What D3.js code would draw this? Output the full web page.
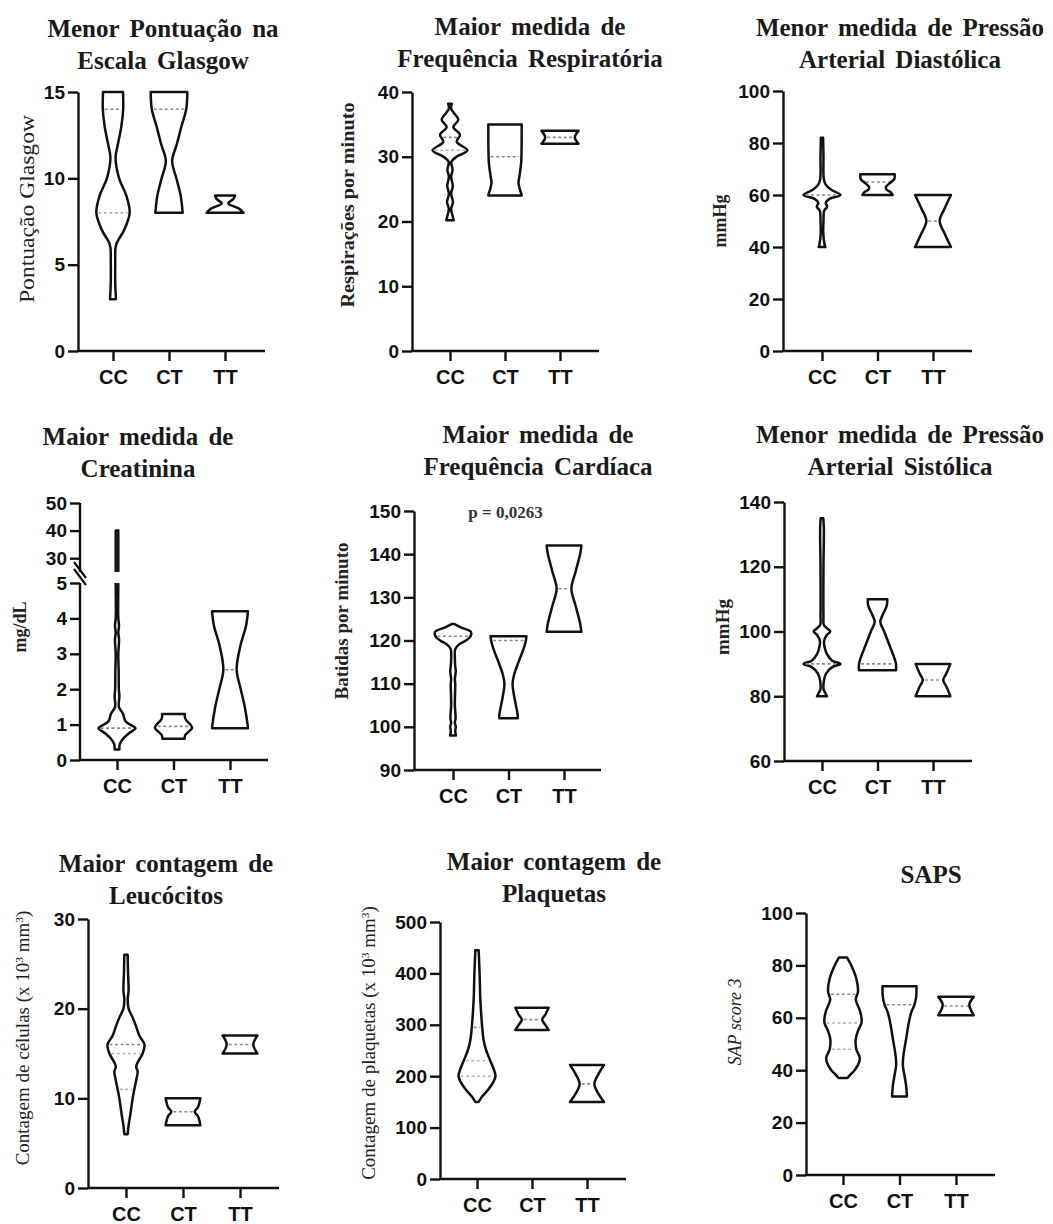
<!DOCTYPE html>
<html>
<head>
<meta charset="utf-8">
<script src="https://cdn.jsdelivr.net/npm/d3@7"></script>
<style>body{margin:0;background:#fff}</style>
</head>
<body>
<svg id="fig" width="1053" height="1224"></svg>
<script>
// genotype groups
var categories = ["CC", "CT", "TT"];

// violin outlines: [value, relative density] (top -> bottom)
var glasgowTicks = [0, 5, 10, 15];
var glasgowCC = [[15,0.54],[14,0.55],[13,0.45],[12,0.27],[11.2,0.14],[10,0.33],[9,0.72],[8,0.9],[7,0.6],[6.3,0.22],[6,0.14],[5,0.12],[4,0.12],[3,0.16]];
var glasgowCT = [[15,0.99],[14,0.93],[13,0.67],[12,0.43],[11,0.17],[10,0.4],[9,0.63],[8,0.74]];
var glasgowTT = [[9,0.54],[8.8,0.45],[8.55,0.18],[8.25,0.75],[8,1.0]];
var glasgowLines = [[14, 8], [14], []];

var frTicks = [0, 10, 20, 30, 40];
var frCC = [[38.2,0.1],[37.4,0.06],[36.8,0.2],[35.7,0.45],[34.6,0.18],[33.4,0.54],[32.3,0.36],[31,0.94],[30,0.35],[29.2,0.07],[28,0.14],[26.9,0.06],[25.5,0.15],[24.3,0.06],[23,0.16],[21.9,0.06],[21,0.13],[20.2,0.2]];
var frCT = [[35,0.9],[32,0.9],[29,0.87],[27,0.78],[26,0.73],[25,0.8],[24.3,0.88],[24,0.9]];
var frTT = [[34,1.0],[33,0.8],[32,1.0]];
var frLines = [[33, 31], [30], [33]];

var padTicks = [0, 20, 40, 60, 80, 100];
var padCC = [[82,0.06],[75,0.08],[66,0.1],[64,0.2],[62,0.5],[60,1.0],[58.5,0.4],[57,0.2],[55.5,0.28],[54,0.12],[50,0.08],[45,0.07],[41,0.14],[40,0.18]];
var padCT = [[68,0.93],[66,0.9],[64.5,0.65],[63,0.45],[62,0.5],[61,0.72],[60,0.82]];
var padTT = [[60,0.97],[55,0.64],[50,0.36],[45,0.64],[40,0.97]];
var padLines = [[60], [65], [50]];

var creatTicks = [0, 1, 2, 3, 4, 5, 30, 40, 50];
var creatCC = [[40,0.07],[30,0.07],[25,0.07],[5,0.07],[4,0.07],[3.8,0.11],[3.6,0.07],[3.4,0.11],[3.0,0.07],[2.5,0.09],[2,0.1],[1.8,0.13],[1.5,0.1],[1.3,0.33],[1.1,0.45],[1.0,0.72],[0.9,1.0],[0.75,0.63],[0.6,0.33],[0.45,0.15],[0.3,0.13]];
var creatCT = [[1.3,0.62],[1.2,0.62],[1.1,0.72],[1.0,0.92],[0.9,1.0],[0.8,0.82],[0.7,0.63],[0.6,0.6]];
var creatTT = [[4.2,0.97],[3.8,0.87],[3.2,0.55],[2.55,0.36],[2,0.58],[1.5,0.8],[1.0,0.95],[0.9,0.97]];
var creatLines = [[0.9], [0.95], [2.55]];

var fcTicks = [90, 100, 110, 120, 130, 140, 150];
var fcCC = [[123.8,0.08],[123,0.45],[122,0.97],[121,0.95],[120,0.7],[119,0.3],[118,0.12],[116,0.1],[114,0.12],[113,0.15],[111,0.1],[110,0.12],[105,0.1],[102,0.14],[101,0.1],[100,0.15],[99,0.12],[98,0.16]];
var fcCT = [[121,0.97],[120,0.94],[118,0.81],[115,0.54],[112,0.3],[110,0.22],[108,0.27],[105,0.4],[103,0.49],[102,0.5]];
var fcTT = [[142,0.94],[140,0.87],[136,0.63],[132,0.4],[128,0.63],[124,0.87],[122,0.94]];
var fcLines = [[121], [120], [132]];

var pasTicks = [60, 80, 100, 120, 140];
var pasCC = [[135,0.07],[132,0.1],[120,0.08],[105,0.08],[102,0.1],[101,0.27],[100,0.45],[99,0.27],[97,0.11],[95,0.15],[93,0.27],[91,0.55],[90,1.0],[89,0.55],[87,0.22],[85,0.11],[82,0.09],[81,0.18],[80,0.27]];
var pasCT = [[110,0.53],[108,0.5],[105,0.27],[103,0.15],[100,0.36],[96,0.63],[92,0.9],[90,1.0],[88,1.0]];
var pasTT = [[90,0.94],[87,0.72],[85,0.55],[83,0.72],[80,0.94]];
var pasLines = [[90], [90], [85]];

var leucTicks = [0, 10, 20, 30];
var leucCC = [[26,0.09],[24,0.11],[22,0.14],[21,0.09],[20,0.14],[19,0.36],[18,0.55],[17,0.72],[16,1.0],[15,0.9],[14,0.63],[13.5,0.55],[13,0.63],[12,0.55],[11,0.45],[10,0.36],[8,0.22],[7,0.14],[6,0.09]];
var leucCT = [[10,0.94],[9,0.81],[8.5,0.63],[8,0.81],[7,0.94]];
var leucTT = [[17,0.94],[16,0.72],[15,0.94]];
var leucLines = [[16, 15, 11], [8.5], [16]];

var plaqTicks = [0, 100, 200, 300, 400, 500];
var plaqCC = [[445,0.09],[400,0.14],[350,0.18],[300,0.27],[270,0.36],[250,0.5],[230,0.72],[210,0.94],[200,1.0],[190,0.9],[175,0.63],[160,0.27],[150,0.09]];
var plaqCT = [[333,0.9],[320,0.72],[310,0.55],[300,0.72],[290,0.9]];
var plaqTT = [[222,0.92],[205,0.63],[185,0.4],[165,0.63],[150,0.92]];
var plaqLines = [[295, 230, 200], [310], [185]];

var sapsTicks = [0, 20, 40, 60, 80, 100];
var sapsCC = [[83,0.22],[80,0.45],[75,0.72],[70,0.81],[67,0.69],[63,0.9],[60,1.0],[58,1.0],[55,0.81],[52,0.69],[48,0.72],[45,0.9],[43,0.87],[40,0.63],[38,0.36],[37,0.24]];
var sapsCT = [[72,0.92],[68,0.9],[65,0.81],[62,0.63],[58,0.5],[52,0.36],[46,0.22],[42,0.18],[38,0.27],[34,0.36],[30,0.4]];
var sapsTT = [[68,0.96],[65,0.72],[61,0.96]];
var sapsLines = [[69, 58, 48], [65], [64.5]];

var svg = d3.select("#fig");
var serif = "'Liberation Serif', 'Times New Roman', serif";
var sans = "'Liberation Sans', Arial, sans-serif";

var panels = [
  {title: ["Menor Pontuação na", "Escala Glasgow"], tx: 163, ty: 37,
   ylab: [["Pontuação Glasgow"]], lx: 27, ly: 209, lsize: 20, lweight: "normal", llen: 188,
   y: d3.scaleLinear().domain([0, 15]).range([351, 92]), ticks: glasgowTicks,
   ax: 78, cx: [113, 225], xEnd: 265, violins: [glasgowCC, glasgowCT, glasgowTT], lines: glasgowLines},
  {title: ["Maior medida de", "Frequência Respiratória"], tx: 530, ty: 35,
   ylab: [["Respirações por minuto"]], lx: 347, ly: 205, lsize: 19, lweight: "bold", llen: 205,
   y: d3.scaleLinear().domain([0, 40]).range([351, 92]), ticks: frTicks,
   ax: 412, cx: [450, 560], xEnd: 599, violins: [frCC, frCT, frTT], lines: frLines},
  {title: ["Menor medida de Pressão", "Arterial Diastólica"], tx: 900, ty: 36,
   ylab: [["mmHg"]], lx: 720, ly: 221, lsize: 18, lweight: "bold",
   y: d3.scaleLinear().domain([0, 100]).range([351, 91]), ticks: padTicks,
   ax: 783, cx: [822, 933], xEnd: 972, violins: [padCC, padCT, padTT], lines: padLines},
  {title: ["Maior medida de", "Creatinina"], tx: 138, ty: 445,
   ylab: [["mg/dL"]], lx: 20, ly: 627, lsize: 18, lweight: "bold",
   y: d3.scaleLinear().domain([0, 5, 25, 50]).range([760, 583, 572, 503]), ticks: creatTicks, broken: true,
   ax: 80, cx: [117, 230], xEnd: 268, violins: [creatCC, creatCT, creatTT], lines: creatLines},
  {title: ["Maior medida de", "Frequência Cardíaca"], tx: 538, ty: 443,
   ylab: [["Batidas por minuto"]], lx: 341, ly: 621, lsize: 19, lweight: "bold",
   y: d3.scaleLinear().domain([90, 150]).range([770, 511]), ticks: fcTicks, pval: "p = 0,0263",
   ax: 414, cx: [453, 564], xEnd: 601, violins: [fcCC, fcCT, fcTT], lines: fcLines},
  {title: ["Menor medida de Pressão", "Arterial Sistólica"], tx: 900, ty: 443,
   ylab: [["mmHg"]], lx: 722, ly: 627, lsize: 19, lweight: "bold",
   y: d3.scaleLinear().domain([60, 140]).range([761, 502]), ticks: pasTicks,
   ax: 784, cx: [822, 933], xEnd: 972, violins: [pasCC, pasCT, pasTT], lines: pasLines},
  {title: ["Maior contagem de", "Leucócitos"], tx: 166, ty: 872,
   ylab: [["Contagem de células (x 10"], ["3", true], [" mm"], ["3", true], [")"]], lx: 22, ly: 1038, lsize: 19, lweight: "normal",
   y: d3.scaleLinear().domain([0, 30]).range([1188, 919]), ticks: leucTicks,
   ax: 88, cx: [126, 240], xEnd: 279, violins: [leucCC, leucCT, leucTT], lines: leucLines},
  {title: ["Maior contagem de", "Plaquetas"], tx: 554, ty: 870,
   ylab: [["Contagem de plaquetas (x 10"], ["3", true], [" mm"], ["3", true], [")"]], lx: 368, ly: 1043, lsize: 19, lweight: "normal",
   y: d3.scaleLinear().domain([0, 500]).range([1179, 922]), ticks: plaqTicks,
   ax: 440, cx: [477, 587], xEnd: 626, violins: [plaqCC, plaqCT, plaqTT], lines: plaqLines},
  {title: ["SAPS"], tx: 931, ty: 883,
   ylab: [["SAP score 3"]], lx: 735, ly: 1022, lsize: 18, lweight: "normal", italic: true,
   y: d3.scaleLinear().domain([0, 100]).range([1175, 913]), ticks: sapsTicks,
   ax: 806, cx: [843, 956], xEnd: 995, violins: [sapsCC, sapsCT, sapsTT], lines: sapsLines}
];

var halfW = d3.scaleLinear().domain([0, 1]).range([0, 18.5]);

// clip for the broken creatinine axis
svg.append("defs").append("clipPath").attr("id", "brk")
  .selectAll("rect").data([[480, 572], [583, 780]]).enter().append("rect")
  .attr("x", 0).attr("width", 351)
  .attr("y", function(d) { return d[0]; })
  .attr("height", function(d) { return d[1] - d[0]; });

panels.forEach(function(p) {
  var g = svg.append("g");
  var y = p.y;
  var x = d3.scalePoint().domain(categories).range(p.cx);
  var y0 = y(p.ticks[0]);

  // titles
  p.title.forEach(function(t, i) {
    g.append("text")
      .attr("x", p.tx).attr("y", p.ty + i * 32)
      .attr("text-anchor", "middle")
      .attr("font-family", serif).attr("font-weight", "bold")
      .attr("font-size", 25).attr("word-spacing", 4).attr("fill", "#1a1a1a")
      .text(t);
  });

  // y label
  var lab = g.append("text")
    .attr("transform", "translate(" + p.lx + "," + p.ly + ") rotate(-90)")
    .attr("text-anchor", "middle").attr("dy", "0.35em")
    .attr("font-family", serif).attr("font-weight", p.lweight)
    .attr("font-style", p.italic ? "italic" : "normal")
    .attr("font-size", p.lsize).attr("fill", "#222");
  if (p.llen) lab.attr("textLength", p.llen).attr("lengthAdjust", "spacingAndGlyphs");
  p.ylab.forEach(function(s) {
    var ts = lab.append("tspan").text(s[0]);
    if (s[1]) ts.attr("baseline-shift", "super").attr("font-size", p.lsize * 0.6);
  });

  // y axis
  var yAx = g.append("g")
    .attr("transform", "translate(" + p.ax + ",0)")
    .call(d3.axisLeft(y).tickValues(p.ticks).tickSize(10).tickSizeOuter(0).tickPadding(3));
  yAx.selectAll("text").attr("font-family", sans).attr("font-weight", "bold")
    .attr("font-size", 19).attr("fill", "#111");
  yAx.selectAll("line, path").attr("stroke", "#111").attr("stroke-width", 2.4);

  if (p.broken) {
    yAx.select(".domain").remove();
    [[50, 25], [5, 0]].forEach(function(s) {
      g.append("line").attr("x1", p.ax).attr("x2", p.ax)
        .attr("y1", y(s[0])).attr("y2", s[0] == 25 ? y(s[1]) - 5 : y(s[1]))
        .attr("stroke", "#111").attr("stroke-width", 2.4);
    });
    [-4, 3].forEach(function(o) {
      g.append("line")
        .attr("x1", p.ax - 6).attr("y1", 566 + o)
        .attr("x2", p.ax + 6).attr("y2", 582 + o)
        .attr("stroke", "#111").attr("stroke-width", 2.2);
    });
  }

  // x axis
  g.append("line").attr("x1", p.ax).attr("x2", p.xEnd)
    .attr("y1", y0).attr("y2", y0)
    .attr("stroke", "#111").attr("stroke-width", 2.4);
  var xAx = g.append("g")
    .attr("transform", "translate(0," + y0 + ")")
    .call(d3.axisBottom(x).tickSize(10).tickPadding(9));
  xAx.select(".domain").remove();
  xAx.selectAll("line").attr("stroke", "#111").attr("stroke-width", 2.4);
  xAx.selectAll("text").attr("font-family", sans).attr("font-weight", "bold")
    .attr("font-size", 20).attr("fill", "#111");

  // violins
  var vg = g.append("g");
  if (p.broken) vg.attr("clip-path", "url(#brk)");
  categories.forEach(function(c, i) {
    var prof = p.violins[i];
    var cx = x(c);
    var area = d3.area()
      .curve(d3.curveCatmullRom.alpha(0.5))
      .y(function(d) { return y(d[0]); })
      .x0(function(d) { return cx - halfW(d[1]); })
      .x1(function(d) { return cx + halfW(d[1]); });
    vg.append("path").datum(prof)
      .attr("d", area)
      .attr("fill", "#fff").attr("stroke", "#111")
      .attr("stroke-width", 2.5).attr("stroke-linejoin", "round");

    var dens = d3.scaleLinear()
      .domain(prof.map(function(d) { return d[0]; }))
      .range(prof.map(function(d) { return d[1]; }));
    p.lines[i].forEach(function(v, k) {
      var hw = Math.max(halfW(dens(v)) - 2, 1);
      vg.append("line")
        .attr("x1", cx - hw).attr("x2", cx + hw)
        .attr("y1", y(v)).attr("y2", y(v))
        .attr("stroke", k == 0 || p.lines[i].length == 1 ? "#8a8a8a" : "#b5b5b5")
        .attr("stroke-width", 1.6).attr("stroke-dasharray", "3,2.5");
    });
  });

  if (p.pval) {
    g.append("text")
      .attr("x", (p.cx[0] + p.cx[1]) / 2 - 3).attr("y", 518)
      .attr("text-anchor", "middle")
      .attr("font-family", serif).attr("font-weight", "bold")
      .attr("font-size", 17).attr("fill", "#333")
      .text(p.pval);
  }
});
</script>
</body>
</html>
